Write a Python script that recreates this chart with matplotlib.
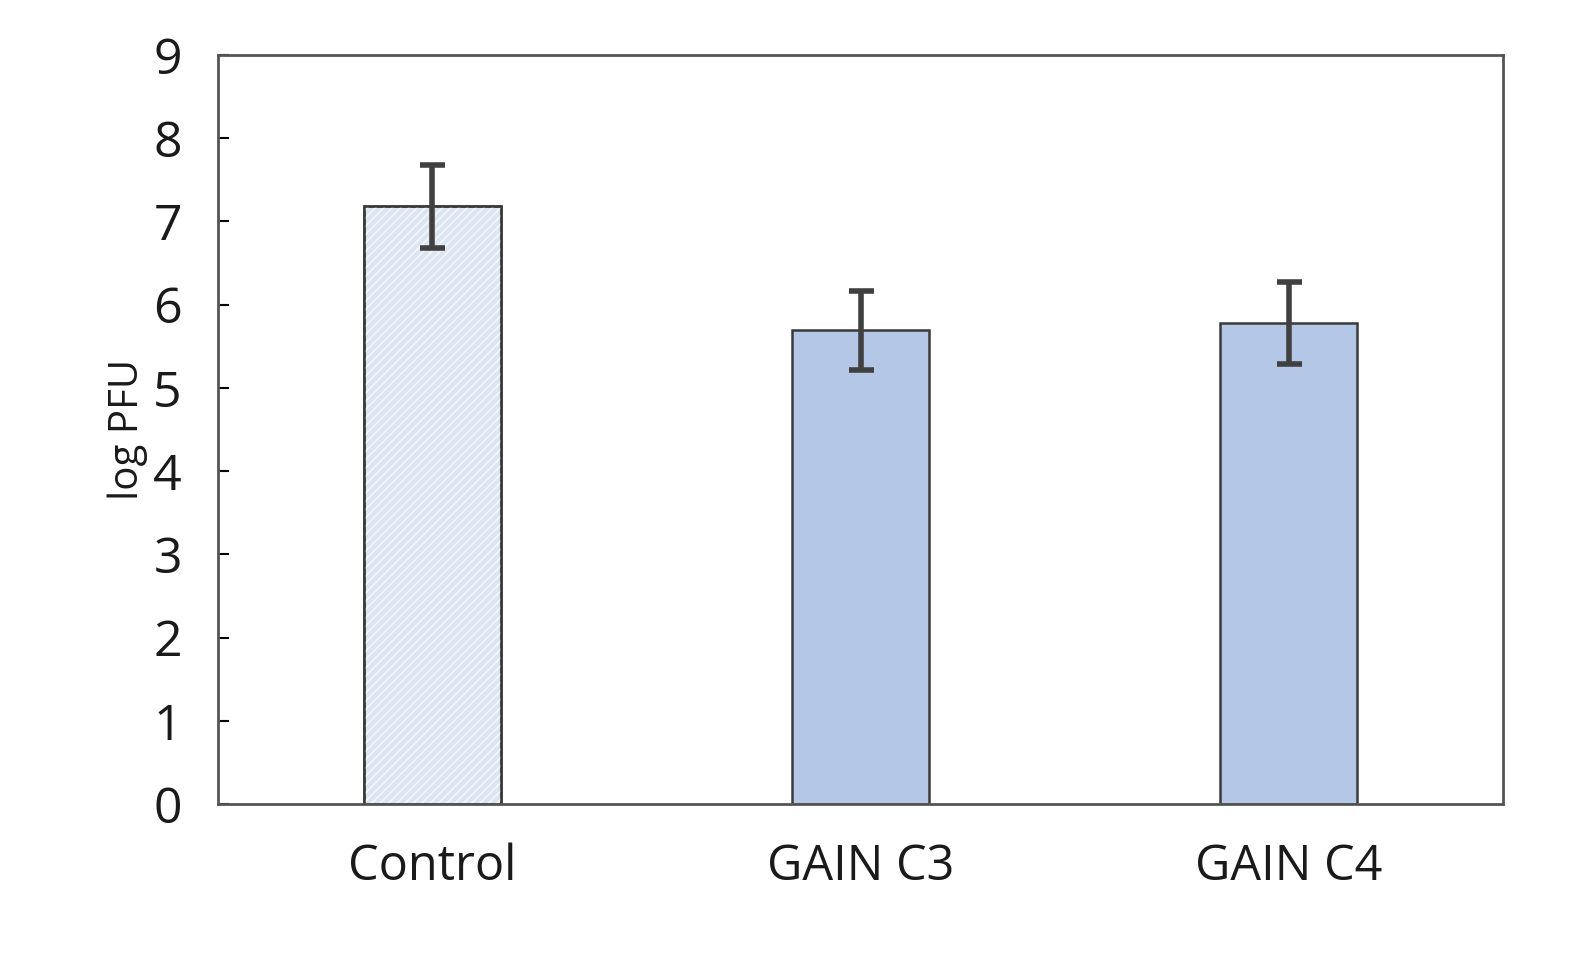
import numpy as np
import matplotlib.pyplot as plt

groups = ['Control', 'GAIN C3', 'GAIN C4']
log_pfu = [7.18, 5.69, 5.78]
err = [0.50, 0.48, 0.49]
colors = ['#dce6f2', '#b4c7e7', '#b4c7e7']

plt.rcParams['font.family'] = ['Open Sans', 'DejaVu Sans']
plt.rcParams['hatch.linewidth'] = 1.2

fig = plt.figure(figsize=(15.8, 9.56), dpi=100)
ax = fig.add_axes([218/1580, 1 - 804/956, 1285/1580, 749/956])

x_pos = np.arange(len(groups))
ax.bar(x_pos, log_pfu, width=0.32, color=colors,
       edgecolor='#3a3a3a', linewidth=1.8, zorder=2)
# light dotted hatch on the control bar only
ax.bar(x_pos[:1], log_pfu[:1], width=0.32, color='none',
       edgecolor='#f3f7fb', hatch='////', linewidth=0, zorder=2.1)
ax.bar(x_pos[:1], log_pfu[:1], width=0.32, color='none',
       edgecolor='#3a3a3a', linewidth=1.8, zorder=2.2)
ax.errorbar(x_pos, log_pfu, yerr=err, fmt='none', ecolor='#404040',
            elinewidth=4, capsize=9, capthick=4, zorder=3)

ax.set_xlim(-0.5, 2.5)
ax.set_ylim(0, 9)
ax.set_yticks(range(10))
ax.set_xticks(x_pos)
ax.set_xticklabels(groups, fontsize=35, color='#1a1a1a')
ax.tick_params(axis='y', direction='in', length=8, width=1.5, labelsize=36,
               labelcolor='#1a1a1a', pad=26)
ax.tick_params(axis='x', length=0, pad=28)
ax.set_ylabel('log PFU', fontsize=29, color='#1a1a1a', labelpad=4)
for s in ax.spines.values():
    s.set_color('#555555')
    s.set_linewidth(2)

fig.savefig('out.png', dpi=100)
